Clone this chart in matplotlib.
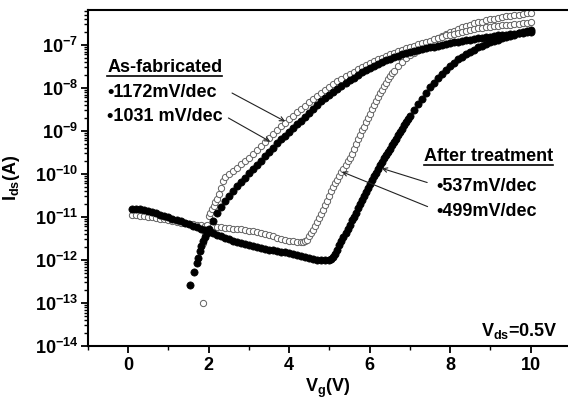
import numpy as np
import matplotlib
matplotlib.use('Agg')
import matplotlib.pyplot as plt
from matplotlib.ticker import LogLocator, FixedLocator, NullFormatter, LogFormatterSciNotation
from matplotlib.lines import Line2D

# ---------------- data (log10 of I_ds in A) ----------------
# As-fabricated, filled symbols
af_closed_vg = [1.54, 1.64, 1.70, 1.74, 1.78, 1.82, 1.86, 1.90, 1.95,
                2.0, 2.1, 2.2, 2.3, 2.4, 2.5, 2.6, 2.7, 2.8, 2.9,
                3.0, 3.1, 3.2, 3.3, 3.4, 3.5, 3.6, 3.7, 3.8, 3.9,
                4.0, 4.1, 4.2, 4.3, 4.4, 4.5, 4.6, 4.7, 4.8, 4.9,
                5.0, 5.1, 5.2, 5.3, 5.4, 5.5, 5.6, 5.7, 5.8, 5.9,
                6.0, 6.1, 6.2, 6.3, 6.4, 6.5, 6.6, 6.7, 6.8, 6.9,
                7.0, 7.1, 7.2, 7.3, 7.4, 7.5, 7.6, 7.7, 7.8, 7.9,
                8.0, 8.1, 8.2, 8.3, 8.4, 8.5, 8.6, 8.7, 8.8, 8.9,
                9.0, 9.1, 9.2, 9.3, 9.4, 9.5, 9.6, 9.7, 9.8, 9.9, 10.0]
af_closed_log = [-12.58, -12.28, -12.08, -11.95, -11.80, -11.68, -11.57, -11.47, -11.37,
                 -11.28, -11.10, -10.92, -10.76, -10.63, -10.51, -10.40, -10.29, -10.19, -10.09,
                 -9.99, -9.89, -9.79, -9.69, -9.59, -9.49, -9.39, -9.29, -9.20, -9.11,
                 -9.02, -8.93, -8.85, -8.76, -8.67, -8.58, -8.49, -8.40, -8.31, -8.23,
                 -8.16, -8.09, -8.02, -7.95, -7.88, -7.82, -7.76, -7.70, -7.64, -7.59,
                 -7.54, -7.49, -7.44, -7.40, -7.36, -7.32, -7.28, -7.25, -7.22, -7.19,
                 -7.16, -7.14, -7.12, -7.10, -7.08, -7.06, -7.04, -7.02, -7.00, -6.98,
                 -6.96, -6.94, -6.93, -6.91, -6.89, -6.88, -6.86, -6.85, -6.83, -6.82,
                 -6.81, -6.79, -6.78, -6.77, -6.76, -6.75, -6.74, -6.73, -6.72, -6.71, -6.70]

# As-fabricated, open symbols
af_open_vg = [1.85, 1.87, 1.92, 1.96, 2.00, 2.04, 2.08, 2.12, 2.16, 2.20, 2.25, 2.30, 2.35, 2.40,
              2.5, 2.6, 2.7, 2.8, 2.9,
              3.0, 3.1, 3.2, 3.3, 3.4, 3.5, 3.6, 3.7, 3.8, 3.9,
              4.0, 4.1, 4.2, 4.3, 4.4, 4.5, 4.6, 4.7, 4.8, 4.9,
              5.0, 5.1, 5.2, 5.3, 5.4, 5.5, 5.6, 5.7, 5.8, 5.9,
              6.0, 6.1, 6.2, 6.3, 6.4, 6.5, 6.6, 6.7, 6.8, 6.9,
              7.0, 7.1, 7.2, 7.3, 7.4, 7.5, 7.6, 7.7, 7.8, 7.9,
              8.0, 8.1, 8.2, 8.3, 8.4, 8.5, 8.6, 8.7, 8.8, 8.9,
              9.0, 9.1, 9.2, 9.3, 9.4, 9.5, 9.6, 9.7, 9.8, 9.9, 10.0]
af_open_log = [-13.00, -11.60, -11.40, -11.18, -10.98, -10.90, -10.82, -10.74, -10.66, -10.58,
               -10.46, -10.32, -10.16, -10.08,
               -10.00, -9.93, -9.86, -9.78, -9.71,
               -9.63, -9.54, -9.45, -9.36, -9.26, -9.17, -9.07, -8.98, -8.89, -8.81,
               -8.73, -8.65, -8.57, -8.49, -8.41, -8.33, -8.26, -8.19, -8.12, -8.05,
               -7.98, -7.91, -7.85, -7.79, -7.73, -7.67, -7.62, -7.56, -7.51, -7.46,
               -7.42, -7.38, -7.34, -7.30, -7.26, -7.22, -7.19, -7.15, -7.12, -7.08,
               -7.05, -7.02, -6.99, -6.96, -6.93, -6.90, -6.87, -6.84, -6.81, -6.78,
               -6.76, -6.74, -6.72, -6.70, -6.68, -6.66, -6.64, -6.62, -6.61, -6.59,
               -6.58, -6.57, -6.56, -6.55, -6.54, -6.53, -6.52, -6.51, -6.50, -6.49, -6.48]

# After treatment, filled symbols
at_closed_vg = [0.1, 0.2, 0.3, 0.4, 0.5, 0.6, 0.7, 0.8, 0.9, 1.0,
                1.1, 1.2, 1.3, 1.4, 1.5, 1.6, 1.7, 1.8, 1.9, 2.0,
                2.1, 2.2, 2.3, 2.4, 2.5, 2.6, 2.7, 2.8, 2.9, 3.0,
                3.1, 3.2, 3.3, 3.4, 3.5, 3.6, 3.7, 3.8, 3.9, 4.0,
                4.1, 4.2, 4.3, 4.4, 4.5, 4.6, 4.7, 4.8, 4.9, 5.0,
                5.05, 5.1, 5.15, 5.2, 5.25, 5.3, 5.35, 5.4, 5.45, 5.5,
                5.55, 5.6, 5.65, 5.7, 5.75, 5.8, 5.85, 5.9, 5.95, 6.0,
                6.05, 6.1, 6.15, 6.2, 6.25, 6.3, 6.35, 6.4, 6.45, 6.5,
                6.55, 6.6, 6.65, 6.7, 6.75, 6.8, 6.85, 6.9, 6.95, 7.0,
                7.1, 7.2, 7.3, 7.4, 7.5, 7.6, 7.7, 7.8, 7.9, 8.0,
                8.1, 8.2, 8.3, 8.4, 8.5, 8.6, 8.7, 8.8, 8.9, 9.0,
                9.1, 9.2, 9.3, 9.4, 9.5, 9.6, 9.7, 9.8, 9.9, 10.0]
at_closed_log = [-10.81, -10.81, -10.82, -10.84, -10.86, -10.89, -10.92, -10.95, -10.98, -11.01,
                 -11.04, -11.07, -11.10, -11.14, -11.17, -11.21, -11.24, -11.28, -11.31, -11.35,
                 -11.38, -11.42, -11.45, -11.49, -11.52, -11.55, -11.58, -11.61, -11.64, -11.66,
                 -11.68, -11.71, -11.73, -11.75, -11.76, -11.78, -11.79, -11.81, -11.82, -11.84,
                 -11.86, -11.88, -11.90, -11.93, -11.95, -11.97, -11.99, -12.00, -12.00, -12.00,
                 -11.98, -11.94, -11.86, -11.76, -11.66, -11.56, -11.46, -11.37, -11.27, -11.18,
                 -11.08, -10.99, -10.90, -10.80, -10.71, -10.61, -10.52, -10.43, -10.33, -10.24,
                 -10.15, -10.06, -9.97, -9.88, -9.80, -9.72, -9.64, -9.57, -9.49, -9.41,
                 -9.33, -9.26, -9.18, -9.10, -9.03, -8.95, -8.87, -8.80, -8.73, -8.66,
                 -8.52, -8.38, -8.25, -8.11, -7.98, -7.88, -7.78, -7.68, -7.59, -7.50,
                 -7.42, -7.34, -7.28, -7.22, -7.16, -7.11, -7.06, -7.02, -6.98, -6.94,
                 -6.91, -6.88, -6.85, -6.82, -6.79, -6.76, -6.73, -6.70, -6.67, -6.65]

# After treatment, open symbols
at_open_vg = [0.1, 0.2, 0.3, 0.4, 0.5, 0.6, 0.7, 0.8, 0.9, 1.0,
              1.1, 1.2, 1.3, 1.4, 1.5, 1.6, 1.7, 1.8, 1.9, 2.0,
              2.1, 2.2, 2.3, 2.4, 2.5, 2.6, 2.7, 2.8, 2.9, 3.0,
              3.1, 3.2, 3.3, 3.4, 3.5, 3.6, 3.7, 3.8, 3.9, 4.0,
              4.1, 4.2, 4.3,
              4.35, 4.4, 4.45, 4.5, 4.55, 4.6, 4.65, 4.7, 4.75, 4.8,
              4.85, 4.9, 4.95, 5.0, 5.05, 5.1, 5.15, 5.2, 5.25, 5.3,
              5.35, 5.4, 5.45, 5.5, 5.55, 5.6, 5.65, 5.7, 5.75, 5.8,
              5.85, 5.9, 5.95, 6.0, 6.05, 6.1, 6.15, 6.2, 6.25, 6.3,
              6.35, 6.4, 6.45, 6.5, 6.55, 6.6,
              6.7, 6.8, 6.9, 7.0,
              7.1, 7.2, 7.3, 7.4, 7.5, 7.6, 7.7, 7.8, 7.9, 8.0,
              8.1, 8.2, 8.3, 8.4, 8.5, 8.6, 8.7, 8.8, 8.9, 9.0,
              9.1, 9.2, 9.3, 9.4, 9.5, 9.6, 9.7, 9.8, 9.9, 10.0]
at_open_log = [-10.95, -10.96, -10.97, -10.98, -10.99, -11.01, -11.02, -11.04, -11.05, -11.07,
               -11.09, -11.11, -11.13, -11.14, -11.16, -11.17, -11.18, -11.19, -11.20, -11.21,
               -11.22, -11.23, -11.24, -11.25, -11.26, -11.27, -11.28, -11.29, -11.30, -11.32,
               -11.33, -11.35, -11.37, -11.40, -11.42, -11.45, -11.48, -11.51, -11.54, -11.56,
               -11.57, -11.58, -11.58,
               -11.58, -11.56, -11.53, -11.45, -11.38, -11.30, -11.21, -11.12, -11.03, -10.94,
               -10.84, -10.73, -10.62, -10.51, -10.40, -10.30, -10.21, -10.13, -10.04, -9.96,
               -9.88, -9.79, -9.71, -9.63, -9.53, -9.42, -9.31, -9.20, -9.10, -8.99,
               -8.90, -8.80, -8.70, -8.60, -8.50, -8.40, -8.31, -8.22, -8.13, -8.05,
               -7.96, -7.88, -7.80, -7.73, -7.66, -7.60,
               -7.49, -7.39, -7.31, -7.24,
               -7.18, -7.12, -7.06, -7.00, -6.95, -6.90, -6.85, -6.80, -6.75, -6.71,
               -6.67, -6.63, -6.59, -6.56, -6.53, -6.50, -6.48, -6.46, -6.43, -6.41,
               -6.39, -6.37, -6.35, -6.34, -6.32, -6.31, -6.30, -6.28, -6.27, -6.26]

x_major = [0, 2, 4, 6, 8, 10]
x_minor = [-1, 1, 3, 5, 7, 9]

# ---------------- style ----------------
plt.rcParams['font.family'] = ['Liberation Sans', 'DejaVu Sans']
plt.rcParams['font.weight'] = 'bold'
plt.rcParams['mathtext.fontset'] = 'custom'
plt.rcParams['mathtext.rm'] = 'Liberation Sans:bold'
plt.rcParams['mathtext.it'] = 'Liberation Sans:bold'
plt.rcParams['mathtext.bf'] = 'Liberation Sans:bold'

W, H = 568, 401
fig = plt.figure(figsize=(W / 100, H / 100), dpi=100)
ax = fig.add_axes([88 / W, 1 - 346 / H, 1 - 88 / W, 336 / H])

open_kw = dict(linestyle='none', marker='o', ms=4.5, mfc='white', mec='#606060', mew=0.7)
fill_kw = dict(linestyle='none', marker='o', ms=5.2, mfc='black', mec='black', mew=0.5)

ax.plot(at_open_vg, 10 ** np.array(at_open_log), **open_kw)
ax.plot(af_open_vg, 10 ** np.array(af_open_log), **open_kw)
ax.plot(af_closed_vg, 10 ** np.array(af_closed_log), **fill_kw)
ax.plot(at_closed_vg, 10 ** np.array(at_closed_log), **fill_kw)

ax.set_yscale('log')
ax.set_ylim(1e-14, 10 ** -6.19)
ax.set_xlim(-1, 10.93)

ax.xaxis.set_major_locator(FixedLocator(x_major))
ax.xaxis.set_minor_locator(FixedLocator(x_minor))
ax.yaxis.set_major_locator(FixedLocator([10.0 ** k for k in range(-14, -6)]))
ax.yaxis.set_minor_locator(LogLocator(base=10, subs=np.arange(2, 10), numticks=50))
ax.yaxis.set_minor_formatter(NullFormatter())
ax.yaxis.set_major_formatter(LogFormatterSciNotation())

ax.tick_params(which='major', direction='out', length=5, width=1.3, labelsize=13, pad=2)
ax.tick_params(which='minor', direction='out', length=2.8, width=1.0)
ax.tick_params(axis='x', which='major', pad=3)
ax.tick_params(top=False, right=False, which='both')

for s in ['left', 'bottom', 'top']:
    ax.spines[s].set_linewidth(1.5)
ax.spines['right'].set_visible(False)

ax.set_xlabel(r'V$_{\mathdefault{g}}$(V)', fontsize=13, fontweight='bold', labelpad=2)
ax.set_ylabel(r'I$_{\mathdefault{ds}}$(A)', fontsize=13, fontweight='bold', labelpad=9)

# ---------------- annotations ----------------
tfs = 13
t_af = ax.text(-0.52, 10 ** -7.64, 'As-fabricated', fontsize=tfs, fontweight='bold', ha='left', va='baseline')
ax.text(-0.52, 10 ** -8.22, '\u20221172mV/dec', fontsize=tfs, fontweight='bold', ha='left', va='baseline')
ax.text(-0.52, 10 ** -8.78, '\u20221031 mV/dec', fontsize=tfs, fontweight='bold', ha='left', va='baseline')
t_at = ax.text(7.35, 10 ** -9.71, 'After treatment', fontsize=tfs, fontweight='bold', ha='left', va='baseline')
ax.text(7.65, 10 ** -10.39, '\u2022537mV/dec', fontsize=tfs, fontweight='bold', ha='left', va='baseline')
ax.text(7.65, 10 ** -10.98, '\u2022499mV/dec', fontsize=tfs, fontweight='bold', ha='left', va='baseline')
ax.text(10.68, 10 ** -13.77, r'V$_{\mathdefault{ds}}$=0.5V', fontsize=tfs, fontweight='bold', ha='right', va='baseline')

arrow_kw = dict(arrowstyle='->', lw=0.8, color='#222222', mutation_scale=8, shrinkA=0, shrinkB=0)
ax.annotate('', xy=(3.90, 10 ** -8.78), xytext=(2.58, 10 ** -8.12), arrowprops=arrow_kw)
ax.annotate('', xy=(3.53, 10 ** -9.25), xytext=(2.49, 10 ** -8.70), arrowprops=arrow_kw)
ax.annotate('', xy=(6.30, 10 ** -9.87), xytext=(7.43, 10 ** -10.20), arrowprops=arrow_kw)
ax.annotate('', xy=(5.31, 10 ** -9.95), xytext=(7.44, 10 ** -10.76), arrowprops=arrow_kw)

# underlines below the two headings
fig.canvas.draw()
r = fig.canvas.get_renderer()
for t, ylog in [(t_af, -7.72), (t_at, -9.80)]:
    bb = t.get_window_extent(r)
    x0, x1 = bb.x0, bb.x1
    yd = ax.transData.transform((0, 10 ** ylog))[1]
    fig.add_artist(Line2D([x0, x1], [yd, yd], transform=None, color='black', lw=1.2))

fig.savefig('out.png', dpi=100)
